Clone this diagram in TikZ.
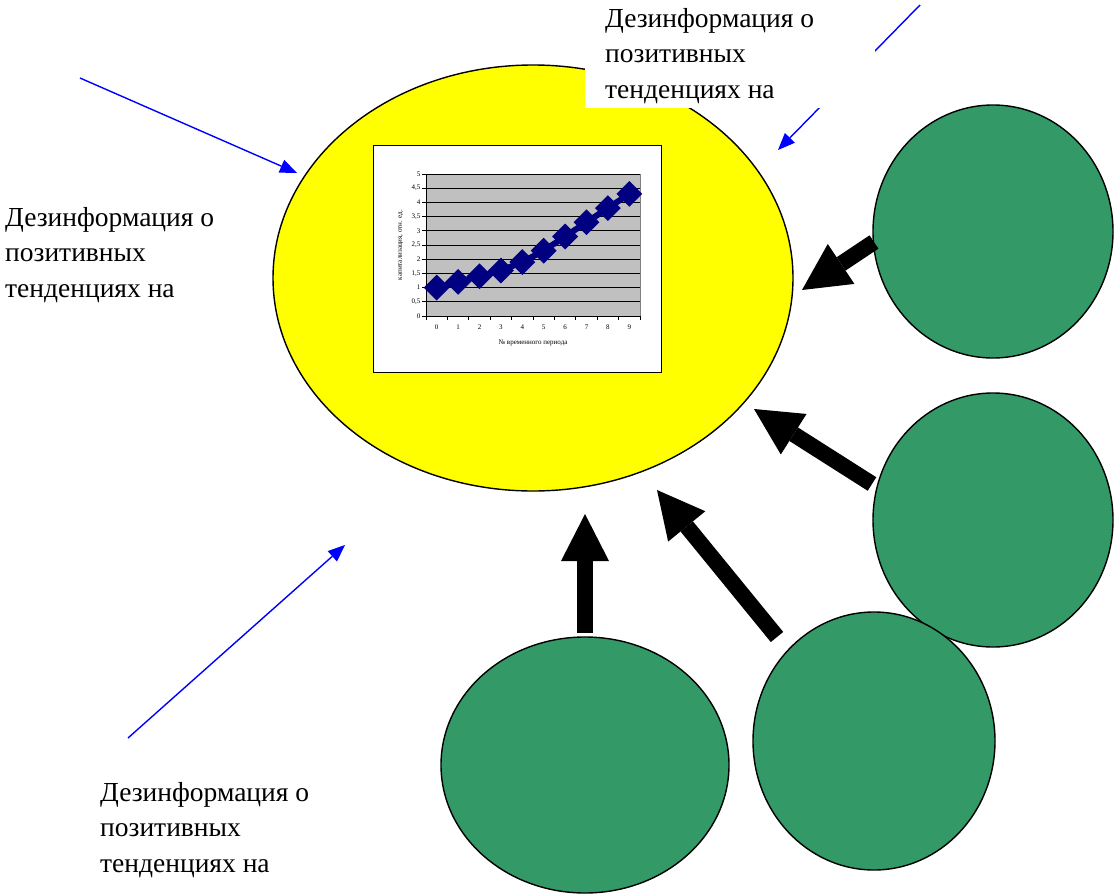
\documentclass[tikz,border=0pt]{standalone}
\usepackage{fontspec}
\setmainfont{Liberation Serif}
\usetikzlibrary{arrows.meta,shapes.geometric}
\definecolor{dgreen}{RGB}{51,153,102}
\definecolor{navyc}{RGB}{0,0,128}
\definecolor{chartgray}{RGB}{192,192,192}
\definecolor{pureyellow}{RGB}{255,255,0}
\tikzset{
  bigoval/.style={ellipse, draw=black, line width=1.4pt, inner sep=0pt},
  greenoval/.style={bigoval, fill=dgreen},
  blockarrow/.style={line width=16pt, line cap=butt, -{Triangle[length=47pt,width=48pt,line width=0pt]}},
  bluearrow/.style={draw=blue, line width=1.4pt, -{Triangle[length=17pt,width=14pt,line width=0pt]}},
  lbl/.style={font=\fontsize{27.5}{35.5}\selectfont, align=left, inner sep=0pt, anchor=north west},
  tiny/.style={font=\fontsize{7}{8}\selectfont, inner sep=0pt},
  marker/.style={diamond, fill=navyc, inner sep=0pt, minimum width=26pt, minimum height=26pt}
}
\begin{document}
\begin{tikzpicture}[x=1pt,y=-1pt]
\useasboundingbox (0,0) rectangle (1116,894);

% main yellow oval
\node[bigoval, fill=pureyellow, minimum width=520pt, minimum height=426pt] (market) at (533,278) {};

% chart
\node[draw=black, fill=white, line width=0.8pt, inner sep=0pt, minimum width=288pt, minimum height=227pt] (chart) at (517.5,259) {};
\fill[chartgray] (426,174) rectangle (640,316);
\foreach \v in {0.5,1,...,5} {
  \draw[black, line width=0.7pt] (426,{316-28.4*\v}) -- (640,{316-28.4*\v});
}
\draw[gray, line width=0.7pt] (640,174) -- (640,316);
\draw[black, line width=0.8pt] (426,174) -- (426,316) -- (640,316);
\foreach \v/\t in {0/0,0.5/{0,5},1/1,1.5/{1,5},2/2,2.5/{2,5},3/3,3.5/{3,5},4/4,4.5/{4,5},5/5} {
  \draw[black, line width=0.7pt] (422,{316-28.4*\v}) -- (426,{316-28.4*\v});
  \node[tiny, anchor=east] at (420.5,{316-28.4*\v}) {\t};
}
\foreach \k in {0,...,10} {
  \draw[black, line width=0.7pt] ({426+21.4*\k},316) -- ({426+21.4*\k},320);
}
\foreach \i in {0,...,9} {
  \node[tiny] at ({426+21.4*(\i+0.5)},327) {\i};
}
\node[tiny] (xtitle) at (533,343) {№ временного периода};
\node[tiny, rotate=90] (ytitle) at (401,245) {капитализация, отн. ед.};
\foreach \i/\v in {0/1,1/1.2,2/1.4,3/1.6,4/1.9,5/2.3,6/2.8,7/3.3,8/3.8,9/4.3} {
  \coordinate (p\i) at ({426+21.4*(\i+0.5)},{316-28.4*\v});
}
\draw[navyc, line width=6pt, line join=round] (p0) -- (p1) -- (p2) -- (p3) -- (p4) -- (p5) -- (p6) -- (p7) -- (p8) -- (p9);
\foreach \i in {0,...,9} { \node[marker] (m\i) at (p\i) {}; }

% green ovals
\node[greenoval, minimum width=240pt, minimum height=253pt] (s1) at (993,231.5) {};
\node[greenoval, minimum width=240pt, minimum height=254pt] (s2) at (993,520) {};
\node[greenoval, minimum width=242pt, minimum height=258pt] (s3) at (874,741) {};
\node[greenoval, minimum width=288pt, minimum height=256pt] (s4) at (585,765) {};

% block arrows
\coordinate (a1t) at (874,242); \coordinate (a1h) at (802,290);
\coordinate (a2t) at (872,484); \coordinate (a2h) at (754,409);
\coordinate (a3t) at (777,637); \coordinate (a3h) at (657,490);
\coordinate (a4t) at (585,633); \coordinate (a4h) at (585,514);
\draw[blockarrow] (a1t) -- (a1h);
\draw[blockarrow] (a2t) -- (a2h);
\draw[blockarrow] (a3t) -- (a3h);
\draw[blockarrow] (a4t) -- (a4h);

% blue arrows
\coordinate (b1t) at (80,78);   \coordinate (b1h) at (297,173);
\coordinate (b2t) at (128,738); \coordinate (b2h) at (345,545);
\coordinate (b3t) at (920,5);   \coordinate (b3h) at (778,150);
\draw[bluearrow] (b1t) -- (b1h);
\draw[bluearrow] (b2t) -- (b2h);
\draw[bluearrow] (b3t) -- (b3h);

% white label box at top
\node[fill=white, anchor=north west, inner sep=0pt, minimum width=290pt, minimum height=108pt] (topbox) at (585,0) {};
\node[lbl] (ttop) at (605,8) {Дезинформация о\\позитивных\\тенденциях на};
\node[lbl] (tleft) at (5,207) {Дезинформация о\\позитивных\\тенденциях на};
\node[lbl] (tbottom) at (100,782) {Дезинформация о\\позитивных\\тенденциях на};
\end{tikzpicture}
\end{document}
